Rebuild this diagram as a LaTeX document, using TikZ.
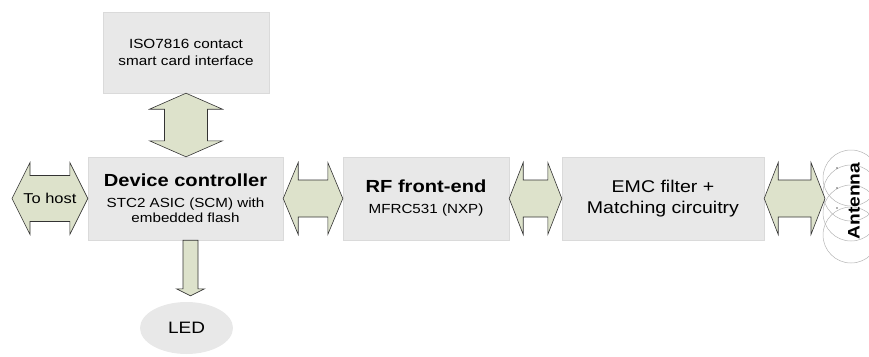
\documentclass[tikz,border=0pt]{standalone}
\usepackage{fontspec}
\setmainfont[FakeStretch=1.15]{Liberation Sans}
\usetikzlibrary{calc,shapes.geometric}

\definecolor{boxgray}{HTML}{E8E8E8}
\definecolor{boxline}{HTML}{DADADA}
\definecolor{arrowfill}{HTML}{DDE2CB}
\definecolor{coilgray}{HTML}{B4B4B4}

\tikzset{
    block/.style={draw=boxline, fill=boxgray, inner sep=0pt, align=center},
    blockarrow/.style={draw=black!80, fill=arrowfill, line width=0.6pt, line join=miter},
}

% double block arrow: left end, right end, head length, head half width, shaft half width
\newcommand{\hbiarrow}[5]{%
    \draw[blockarrow] let \p1=#1, \p2=#2 in
        (\x1,\y1) -- (\x1+#3,\y1+#4) -- (\x1+#3,\y1+#5) -- (\x2-#3,\y1+#5)
        -- (\x2-#3,\y1+#4) -- (\x2,\y1) -- (\x2-#3,\y1-#4) -- (\x2-#3,\y1-#5)
        -- (\x1+#3,\y1-#5) -- (\x1+#3,\y1-#4) -- cycle;}
% same, upright: top end, bottom end, ...
\newcommand{\vbiarrow}[5]{%
    \draw[blockarrow] let \p1=#1, \p2=#2 in
        (\x1,\y1) -- (\x1+#4,\y1-#3) -- (\x1+#5,\y1-#3) -- (\x1+#5,\y2+#3)
        -- (\x1+#4,\y2+#3) -- (\x1,\y2) -- (\x1-#4,\y2+#3) -- (\x1-#5,\y2+#3)
        -- (\x1-#5,\y1-#3) -- (\x1-#4,\y1-#3) -- cycle;}

\begin{document}
\begin{tikzpicture}[x=1pt,y=-1pt]
    \useasboundingbox (0,0) rectangle (869,356);
    %blocks
    \node[block, minimum width=166pt, minimum height=81pt,
        font=\fontsize{13.3}{16.4}\selectfont] (iso) at (186,52.5)
        {ISO7816 contact\\smart card interface};
    \node[block, minimum width=195pt, minimum height=83pt,
        font=\fontsize{13.2}{15.5}\selectfont] (dc) at (185.5,198.5)
        {{\fontsize{17.5}{20}\selectfont\bfseries Device controller}\\[4.8pt]
         STC2 ASIC (SCM) with\\embedded flash};
    \node[block, minimum width=166pt, minimum height=83pt,
        font=\fontsize{13.2}{15.5}\selectfont] (rf) at (426,198.5)
        {{\fontsize{17.5}{20}\selectfont\bfseries RF front-end}\\[5.5pt]
         MFRC531 (NXP)};
    \node[block, minimum width=202pt, minimum height=83pt,
        font=\fontsize{17}{21.5}\selectfont] (emc) at (663,198.5)
        {EMC filter +\\Matching circuitry};
    \node[block, ellipse, draw=none, minimum width=93pt, minimum height=52pt,
        font=\fontsize{16.5}{19}\selectfont] (led) at (186.5,328) {LED};

    %antenna coil
    \foreach \cy in {178,193,213,235}
        \draw[coilgray, line width=0.5pt] (851,\cy) circle (28pt);
    \foreach \cy in {168,188,208}
        \fill[black!60] (837,\cy) circle (0.8pt);
    \node[rotate=90, font=\fontsize{16.7}{19}\selectfont\bfseries] (antenna) at (854,201) {Antenna};

    %free ends
    \coordinate (host) at (12,198.5);
    \coordinate (antin) at (825,198.5);

    %arrows
    \hbiarrow{(host)}{(dc.west)}{18pt}{36pt}{23pt}
    \node[font=\fontsize{14.3}{17}\selectfont] (tohost) at ($(host)!0.5!(dc.west)$) {To host};
    \hbiarrow{(dc.east)}{(rf.west)}{15pt}{36pt}{18.5pt}
    \hbiarrow{(rf.east)}{(emc.west)}{14pt}{36pt}{18.5pt}
    \hbiarrow{(emc.east)}{(antin)}{14pt}{36pt}{18.5pt}
    \vbiarrow{(iso.south)}{(dc.north)}{16pt}{36.5pt}{21.5pt}
    \draw[blockarrow] let \p1=($(dc.south)+(5,0)$), \p2=(led.north) in
        (\x1-7.5pt,\y1) -- (\x1+7.5pt,\y1) -- (\x1+7.5pt,\y2+13pt) -- (\x1+14pt,\y2+13pt)
        -- (\x1,\y2+6pt) -- (\x1-14pt,\y2+13pt) -- (\x1-7.5pt,\y2+13pt) -- cycle;
\end{tikzpicture}
\end{document}
